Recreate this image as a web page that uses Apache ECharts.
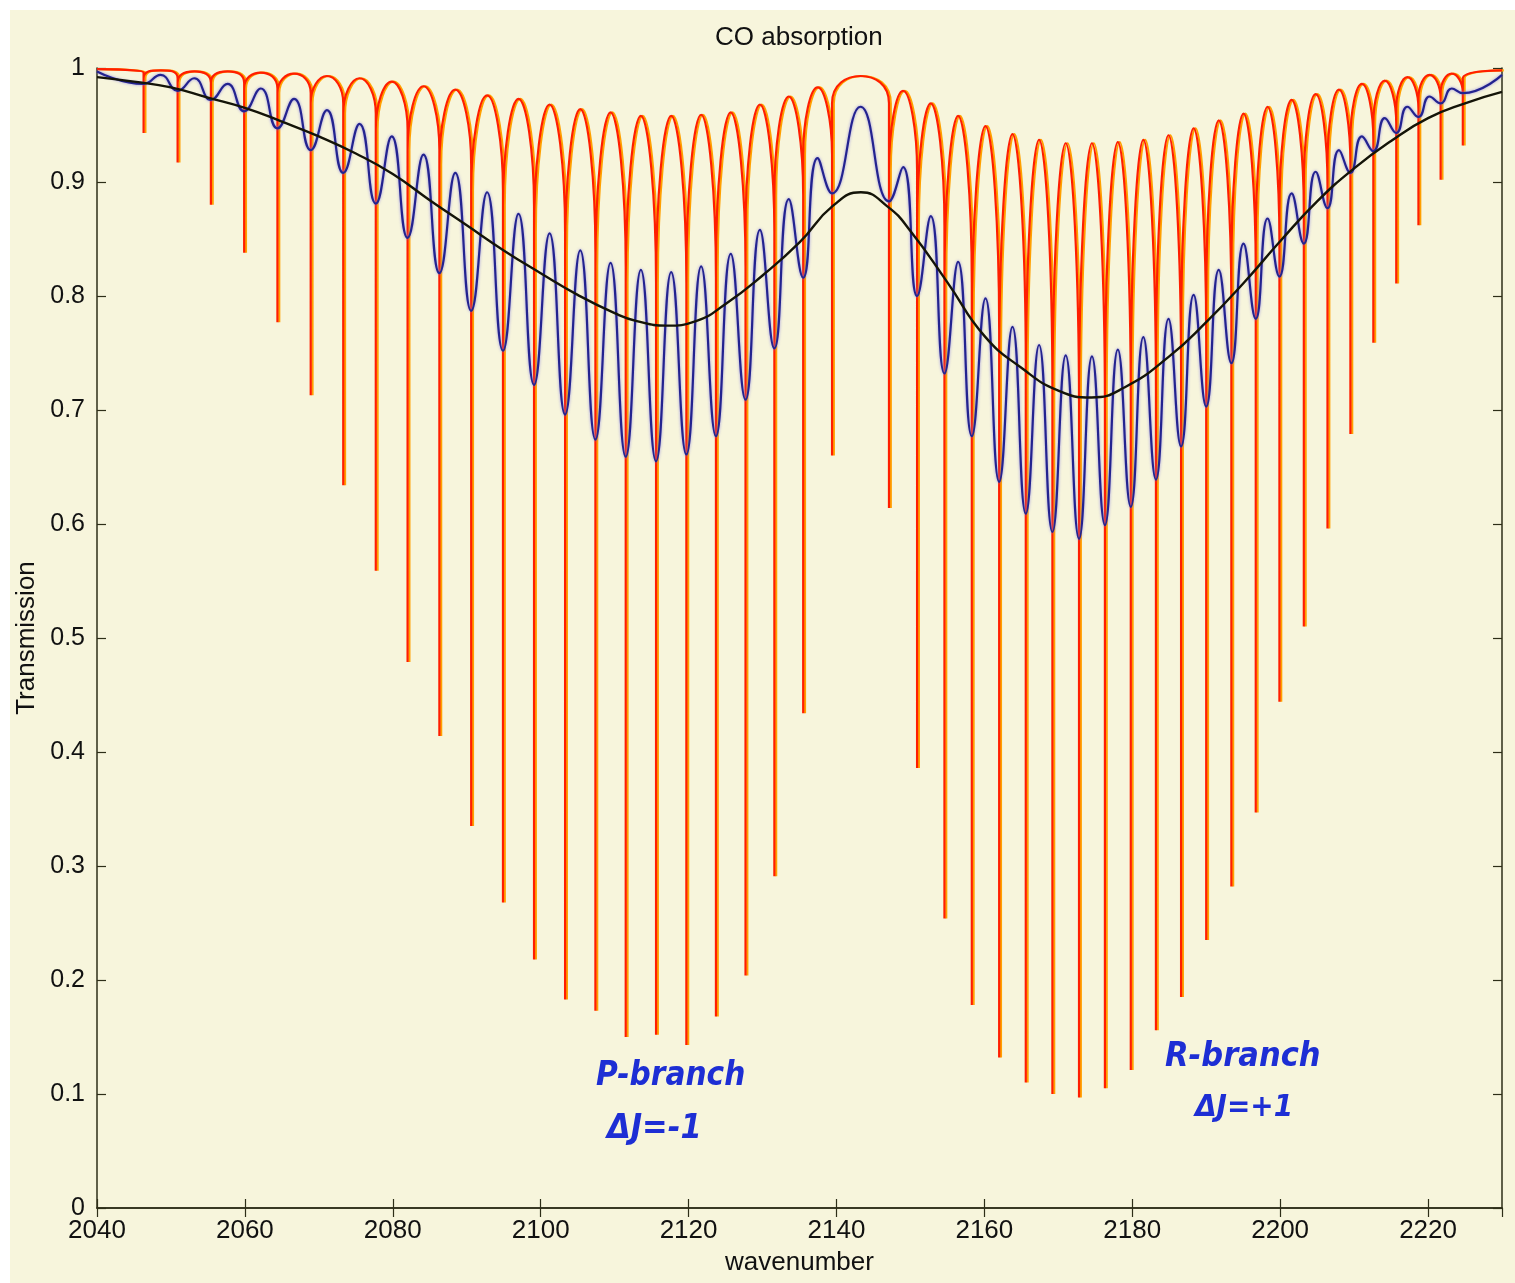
<!DOCTYPE html>
<html><head><meta charset="utf-8">
<script src="https://cdn.jsdelivr.net/npm/echarts@6/dist/echarts.min.js"></script>
<style>html,body{margin:0;padding:0;background:#fff;}#c{width:1515px;height:1283px;}</style>
</head><body><div id="c"></div>
<script>
// Absorption line positions (wavenumber): P-branch P(23)..P(1), then R-branch R(0)..R(23)
const lineWn = [2046.3, 2050.9, 2055.4, 2059.9, 2064.4, 2068.9, 2073.3, 2077.7, 2082.0, 2086.3, 2090.6, 2094.9,
  2099.1, 2103.3, 2107.4, 2111.5, 2115.6, 2119.7, 2123.7, 2127.7, 2131.6, 2135.5, 2139.4,
  2147.1, 2150.9, 2154.6, 2158.3, 2162.0, 2165.6, 2169.2, 2172.8, 2176.3, 2179.8, 2183.2, 2186.6, 2190.0,
  2193.4, 2196.7, 2199.9, 2203.2, 2206.4, 2209.5, 2212.6, 2215.7, 2218.7, 2221.7, 2224.7];

// High resolution (red) spectrum: minimum at each line
const redDip = [0.943, 0.917, 0.880, 0.838, 0.777, 0.713, 0.634, 0.559, 0.479, 0.414, 0.335, 0.268,
  0.218, 0.183, 0.173, 0.150, 0.152, 0.143, 0.168, 0.204, 0.291, 0.434, 0.660,
  0.614, 0.386, 0.254, 0.178, 0.132, 0.110, 0.100, 0.097, 0.105, 0.121, 0.156, 0.185, 0.235,
  0.282, 0.347, 0.444, 0.510, 0.596, 0.679, 0.759, 0.811, 0.862, 0.902, 0.932];
// red arc top in each gap (left edge, between lines, right edge)
const redTop = [0.999, 0.998, 0.997, 0.997, 0.996, 0.995, 0.993, 0.991, 0.988, 0.984, 0.981, 0.976,
  0.973, 0.968, 0.964, 0.961, 0.958, 0.958, 0.959, 0.961, 0.968, 0.975, 0.983, 0.993,
  0.980, 0.969, 0.958, 0.949, 0.942, 0.937, 0.934, 0.934, 0.935, 0.937, 0.941, 0.947,
  0.954, 0.960, 0.966, 0.972, 0.977, 0.981, 0.986, 0.989, 0.992, 0.994, 0.995, 0.998];
// level where each red arc turns into the vertical line wall
const redKnee = [0.996, 0.991, 0.987, 0.987, 0.982, 0.978, 0.969, 0.960, 0.946, 0.928, 0.915, 0.892,
  0.879, 0.856, 0.838, 0.825, 0.811, 0.811, 0.816, 0.825, 0.856, 0.888, 0.924, 0.969,
  0.910, 0.861, 0.811, 0.771, 0.739, 0.717, 0.703, 0.703, 0.708, 0.717, 0.735, 0.762,
  0.793, 0.820, 0.847, 0.874, 0.897, 0.915, 0.937, 0.951, 0.964, 0.973, 0.978, 0.991];

// Medium resolution (blue) spectrum
const blueDip = [0.986, 0.980, 0.972, 0.962, 0.947, 0.928, 0.908, 0.881, 0.851, 0.820, 0.787, 0.752,
  0.722, 0.696, 0.674, 0.659, 0.655, 0.661, 0.677, 0.709, 0.754, 0.816, 0.890,
  0.883, 0.800, 0.732, 0.677, 0.637, 0.609, 0.593, 0.587, 0.599, 0.615, 0.639, 0.668, 0.703,
  0.741, 0.780, 0.817, 0.846, 0.877, 0.908, 0.927, 0.943, 0.957, 0.969, 0.978];
const blueTop = [0.997, 0.994, 0.991, 0.986, 0.982, 0.973, 0.963, 0.951, 0.940, 0.924, 0.908, 0.891,
  0.872, 0.855, 0.840, 0.829, 0.823, 0.821, 0.826, 0.837, 0.858, 0.885, 0.921, 0.966,
  0.913, 0.870, 0.830, 0.798, 0.773, 0.757, 0.748, 0.747, 0.753, 0.764, 0.780, 0.801,
  0.823, 0.846, 0.868, 0.890, 0.909, 0.928, 0.940, 0.956, 0.966, 0.975, 0.982, 0.994];

// Low resolution (black) envelope
const blackWn = [2040, 2045, 2050, 2055, 2060, 2065, 2070, 2075, 2080, 2085, 2090, 2095, 2100, 2105, 2110,
  2113, 2117, 2121, 2125, 2130, 2135, 2139.5, 2143.3, 2147, 2150, 2155, 2160, 2165, 2170, 2174.5, 2179,
  2185, 2190, 2195, 2200, 2205, 2210, 2215, 2220, 2225, 2230];
const blackVal = [0.992, 0.988, 0.983, 0.974, 0.965, 0.953, 0.940, 0.925, 0.907, 0.884, 0.862, 0.840, 0.820, 0.801, 0.785,
  0.778, 0.774, 0.778, 0.793, 0.818, 0.847, 0.879, 0.891, 0.878, 0.857, 0.812, 0.765, 0.737, 0.717, 0.711, 0.720,
  0.747, 0.777, 0.811, 0.848, 0.883, 0.912, 0.936, 0.956, 0.969, 0.979];

const xTicks = [2040, 2060, 2080, 2100, 2120, 2140, 2160, 2180, 2200, 2220];
const X_MIN = 2040, X_MAX = 2230;

// build tables
const n = lineWn.length;
const redData = [[X_MIN, redTop[0]]];
const blueData = [[X_MIN, blueTop[0]]];
for (let i = 0; i < n; i++) {
  const L = lineWn[i];
  redData.push([L, redKnee[i]], [L, redDip[i]], [L, redKnee[i + 1]]);
  blueData.push([L, blueDip[i]]);
  if (i < n - 1) {
    const mid = (L + lineWn[i + 1]) / 2;
    redData.push([mid, redTop[i + 1]]);
    blueData.push([mid, blueTop[i + 1]]);
  }
}
redData.push([X_MAX, redTop[n]]);
blueData.push([X_MAX, blueTop[n]]);
const blackData = blackWn.map((w, i) => [w, blackVal[i]]);

const FONT = 'Liberation Sans, Arial, Helvetica, sans-serif';
const HAND = 'DejaVu Sans Condensed, DejaVu Sans, sans-serif';
const AX = '#2e2e18';
const chart = echarts.init(document.getElementById('c'), null, {renderer: 'canvas'});
chart.setOption({
  animation: false,
  backgroundColor: '#ffffff',
  title: {text: 'CO absorption', left: 710, top: 20,
    textStyle: {fontSize: 26, fontWeight: 'normal', fontFamily: FONT, color: '#111'}},
  grid: {left: 97, top: 68, width: 1405, height: 1140, show: false},
  xAxis: [{
    type: 'value', min: X_MIN, max: X_MAX, interval: 20,
    name: 'wavenumber', nameLocation: 'middle', nameGap: 42,
    nameTextStyle: {fontSize: 26, fontFamily: FONT, color: '#111'},
    axisLine: {show: true, lineStyle: {color: AX, width: 1.5}},
    axisTick: {show: true, inside: true, length: 9, lineStyle: {color: AX, width: 1.2}},
    axisLabel: {fontSize: 26, fontFamily: FONT, color: '#111', margin: 10, showMaxLabel: false,
      formatter: v => xTicks.indexOf(v) >= 0 ? String(v) : ''},
    splitLine: {show: false}
  }, {
    type: 'value', position: 'top', min: X_MIN, max: X_MAX, interval: 20,
    axisLine: {show: true, lineStyle: {color: AX, width: 1.5}},
    axisTick: {show: true, inside: true, length: 9, lineStyle: {color: AX, width: 1.2}},
    axisLabel: {show: false}, splitLine: {show: false}
  }],
  yAxis: [{
    type: 'value', min: 0, max: 1, interval: 0.1,
    name: 'Transmission', nameLocation: 'middle', nameGap: 49, nameRotate: 90,
    nameTextStyle: {fontSize: 26, fontFamily: FONT, color: '#111'},
    axisLine: {show: true, lineStyle: {color: AX, width: 1.5}},
    axisTick: {show: true, inside: true, length: 9, lineStyle: {color: AX, width: 1.2}},
    axisLabel: {fontSize: 25, fontFamily: FONT, color: '#111', margin: 12,
      formatter: v => String(Math.round(v * 10) / 10)},
    splitLine: {show: false}
  }, {
    type: 'value', position: 'right', min: 0, max: 1, interval: 0.1,
    axisLine: {show: true, lineStyle: {color: AX, width: 1.5}},
    axisTick: {show: true, inside: true, length: 9, lineStyle: {color: AX, width: 1.2}},
    axisLabel: {show: false}, splitLine: {show: false}
  }],
  graphic: [
    {type: 'rect', left: 10, top: 10, z: -100, silent: true,
      shape: {width: 1505, height: 1273}, style: {fill: '#f7f5dc'}},
    {type: 'text', left: 596, top: 1060, z: 100, style: {text: 'P-branch', fontSize: 33, fontStyle: 'italic',
      fontWeight: 'bold', fontFamily: HAND, fill: '#1d2ed4'}},
    {type: 'text', left: 607, top: 1112, z: 100, style: {text: 'ΔJ=-1', fontSize: 34, fontStyle: 'italic',
      fontWeight: 'bold', fontFamily: HAND, fill: '#1d2ed4'}},
    {type: 'text', left: 1165, top: 1040, z: 100, style: {text: 'R-branch', fontSize: 34, fontStyle: 'italic',
      fontWeight: 'bold', fontFamily: HAND, fill: '#1d2ed4'}},
    {type: 'text', left: 1195, top: 1092, z: 100, style: {text: 'ΔJ=+1', fontSize: 31, fontStyle: 'italic',
      fontWeight: 'bold', fontFamily: HAND, fill: '#1d2ed4'}}
  ],
  series: [{
    name: 'high resolution', type: 'line', data: redData, smooth: 0.5, showSymbol: false, symbol: 'none',
    xAxisIndex: 0, yAxisIndex: 0, z: 2,
    lineStyle: {color: '#ff1e00', width: 2.2, shadowColor: '#ffa000', shadowOffsetX: 1.8, shadowBlur: 0}
  }, {
    name: 'medium resolution', type: 'line', data: blueData, smooth: 0.5, showSymbol: false, symbol: 'none',
    xAxisIndex: 0, yAxisIndex: 0, z: 3,
    lineStyle: {color: '#23238f', width: 2.2, shadowColor: 'rgba(130,120,225,0.8)', shadowBlur: 3}
  }, {
    name: 'low resolution', type: 'line', data: blackData, smooth: 0.5, showSymbol: false, symbol: 'none',
    xAxisIndex: 0, yAxisIndex: 0, z: 4,
    lineStyle: {color: '#141408', width: 2.4}
  }]
});
</script></body></html>
